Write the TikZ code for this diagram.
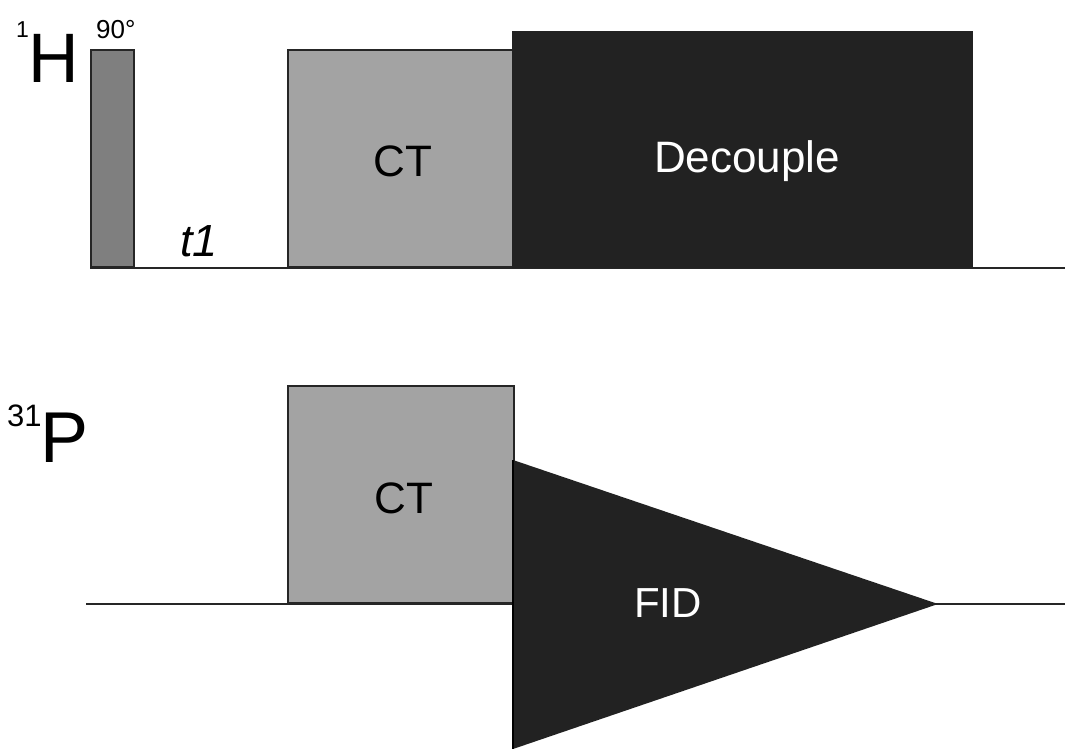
\documentclass[tikz,border=0pt]{standalone}
\usepackage{fontspec}
\setmainfont{Liberation Sans}
\definecolor{pulsegray}{HTML}{7F7F7F}
\definecolor{ctgray}{HTML}{A3A3A3}
\definecolor{darkfill}{HTML}{222222}
\begin{document}
\begin{tikzpicture}[x=1pt,y=-1pt,
  axisline/.style={line width=2pt,draw=black!85},
  boxpulse/.style={draw=black!85,line width=1.6pt,inner sep=0,anchor=south west},
  lbl/.style={inner sep=0,anchor=base},
  lblw/.style={inner sep=0,anchor=base west}]
\useasboundingbox (0,0) rectangle (1065,749);
\fill[white] (0,0) rectangle (1065,749);
% 1H channel
\coordinate (h0) at (90,268);
\coordinate (h1) at (1065,268);
\draw[axisline] (h0) -- (h1);
\node[boxpulse,fill=pulsegray,minimum width=43pt,minimum height=217pt] (p90) at (90,268) {};
\node[boxpulse,fill=ctgray,minimum width=225pt,minimum height=217pt] (cth) at (287,268) {};
\node[boxpulse,fill=darkfill,draw=darkfill,minimum width=459pt,minimum height=235pt] (dec) at (512,268) {};
\node[lbl,font=\fontsize{44}{44}\selectfont] (ctht) at (403,176) {CT};
\node[lbl,text=white,font=\fontsize{44}{44}\selectfont] (dect) at (747,172) {Decouple};
\node[lblw,font=\fontsize{26}{26}\selectfont] (ninety) at (96,39) {90°};
\node[lblw,font=\fontsize{45}{45}\selectfont\itshape] (t1) at (180,256) {t1};
\node[lblw,font=\fontsize{70}{70}\selectfont] (hl) at (28,83) {H};
\node[lblw,font=\fontsize{23}{23}\selectfont] (hs) at (16,38) {1};
% 31P channel
\coordinate (q0) at (86,604);
\coordinate (q1) at (1065,604);
\draw[axisline] (q0) -- (q1);
\node[boxpulse,fill=ctgray,minimum width=226pt,minimum height=217pt] (ctp) at (287,604) {};
\coordinate (fa) at (513,460);
\coordinate (fb) at (938,604);
\coordinate (fc) at (513,749);
\fill[darkfill] (fa) -- (fb) -- (fc) -- cycle;
\draw[line width=1.2pt,draw=black] (fa) -- (fc);
\node[lbl,font=\fontsize{44}{44}\selectfont] (ctpt) at (404,513) {CT};
\node[lbl,text=white,font=\fontsize{42}{42}\selectfont] (fid) at (668,617) {FID};
\node[lblw,font=\fontsize{72}{72}\selectfont] (pl) at (40,462) {P};
\node[lblw,font=\fontsize{31}{31}\selectfont] (ps) at (7,426) {31};
\end{tikzpicture}
\end{document}
